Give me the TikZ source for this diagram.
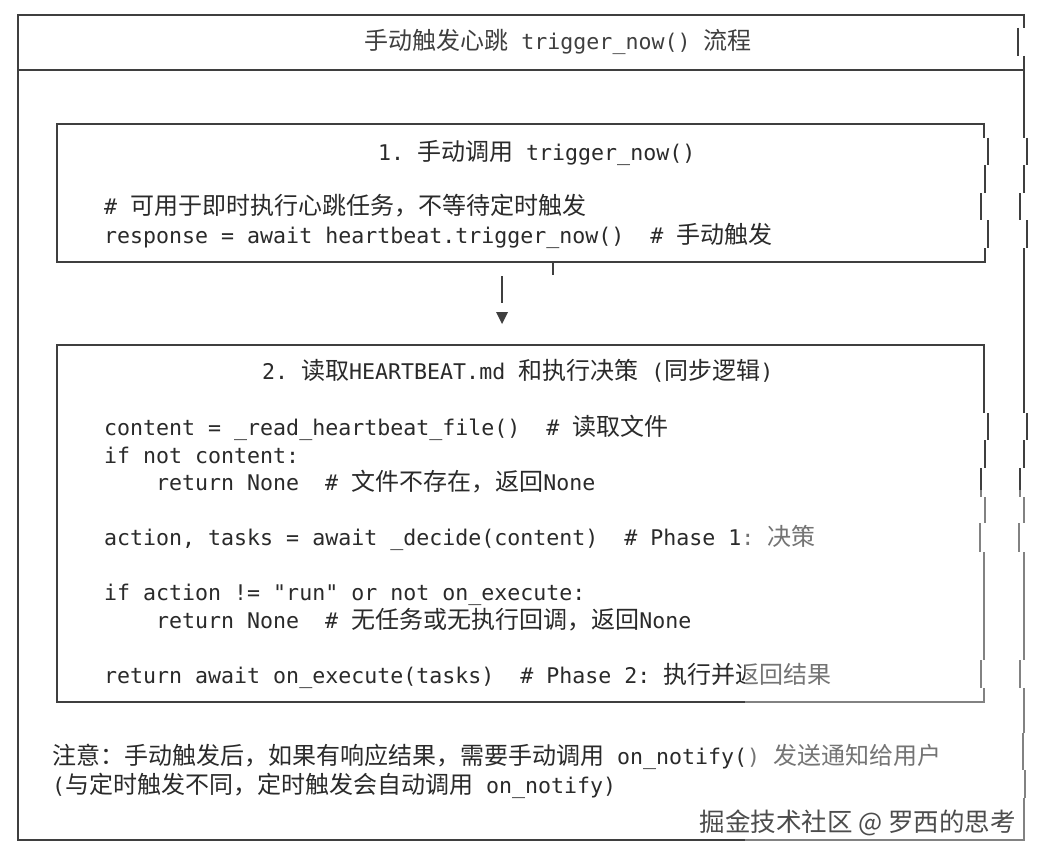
\documentclass[tikz,border=0pt]{standalone}
\usepackage{fontspec}
\setmonofont{DejaVu Sans Mono}
\newfontfamily\cjk{Noto Sans CJK SC}
\newcommand\zh[1]{{\cjk\fontsize{24}{26}\selectfont #1}}
\definecolor{ink}{HTML}{2A2A2A}
\definecolor{rulec}{HTML}{3F3F3F}
\begin{document}
\begin{tikzpicture}[x=1pt,y=-1pt,
  rulel/.style={draw=rulec,line width=2pt},
  code/.style={anchor=west,inner sep=0pt,text height=16pt,text depth=5pt,text=ink,
    font=\ttfamily\fontsize{21.6}{26}\selectfont},
]
\useasboundingbox (0,0) rectangle (1040,861);
\fill[white] (0,0) rectangle (1040,861);

% outer frame
\draw[rulel] (1024,15) -- (18,15) -- (18,840) -- (1024,840);
\draw[rulel] (18,70) -- (1024,70);
\foreach \x/\ya/\yb in {1024/14/28, 1018/28/56, 1024/56/138, 1027/138/165, 1024/165/193,
  1020/193/220, 1027/220/248, 1024/248/413, 1027/413/440, 1024/440/468, 1020/468/497,
  1024/497/523, 1019/523/552, 1024/552/660, 1020/660/688, 1024/688/733, 1023/733/770,
  1025/770/798, 1024/798/841}
  \draw[rulel] (\x,\ya) -- (\x,\yb);

% box 1
\draw[rulel] (984,124) -- (57,124) -- (57,262) -- (985,262);
\foreach \x/\ya/\yb in {984/123/138, 988/138/165, 985/165/193, 981/193/220, 988/220/248, 985/248/263}
  \draw[rulel] (\x,\ya) -- (\x,\yb);

% box 2
\draw[rulel] (984,345) -- (57,345) -- (57,702) -- (984,702);
\foreach \x/\ya/\yb in {984/344/413, 988/413/440, 985/440/468, 981/468/497, 985/497/523,
  980/523/552, 984/552/660, 981/660/688, 984/688/703}
  \draw[rulel] (\x,\ya) -- (\x,\yb);

% arrow between boxes
\coordinate (tickA) at (553,262);
\coordinate (tickB) at (553,275);
\coordinate (arrA) at (502,276);
\coordinate (arrB) at (502,303);
\coordinate (triL) at (496,312);
\coordinate (triR) at (508,312);
\coordinate (triB) at (502,324);
\draw[rulel] (tickA) -- (tickB);
\draw[rulel] (arrA) -- (arrB);
\fill[rulec] (triL) -- (triR) -- (triB) -- cycle;

% texts
\node[code,anchor=center,text=ink!90] (title) at (558,44) {\zh{手动触发心跳}~trigger\_now()~\zh{流程}};

\node[code] (b1t) at (378,155) {1.~\zh{手动调用}~trigger\_now()};
\node[code] (b1a) at (104,209) {\#~\zh{可用于即时执行心跳任务，不等待定时触发}};
\node[code] (b1b) at (104,238) {response = await heartbeat.trigger\_now()~~\#~\zh{手动触发}};

\node[code] (b2t) at (262,374) {2.~\zh{读取}HEARTBEAT.md~\zh{和执行决策}~(\zh{同步逻辑})};
\node[code] (l1) at (104,430) {content = \_read\_heartbeat\_file()~~\#~\zh{读取文件}};
\node[code] (l2) at (104,458) {if not content:};
\node[code] (l3) at (156,485) {return None~~\#~\zh{文件不存在，返回}None};
\node[code] (l4) at (104,540) {action, tasks = await \_decide(content)~~\#~Phase 1:~\zh{决策}};
\node[code] (l5) at (104,595) {if action != "run" or not on\_execute:};
\node[code] (l6) at (156,623) {return None~~\#~\zh{无任务或无执行回调，返回}None};
\node[code] (l7) at (104,678) {return await on\_execute(tasks)~~\#~Phase 2:~\zh{执行并返回结果}};

\node[code] (n1) at (52,759) {\zh{注意：手动触发后，如果有响应结果，需要手动调用}~on\_notify()~\zh{发送通知给用户}};
\node[code] (n2) at (52,788) {(\zh{与定时触发不同，定时触发会自动调用}~on\_notify)};

% watermark overlay
\fill[white,fill opacity=0.35,rounded corners=12pt] (745,490) rectangle (1060,880);
\node[anchor=east,inner sep=0pt,text=black!70,font=\cjk\fontsize{25.5}{28}\selectfont] (wm) at (1016,823) {掘金技术社区 @ 罗西的思考};
\end{tikzpicture}
\end{document}
